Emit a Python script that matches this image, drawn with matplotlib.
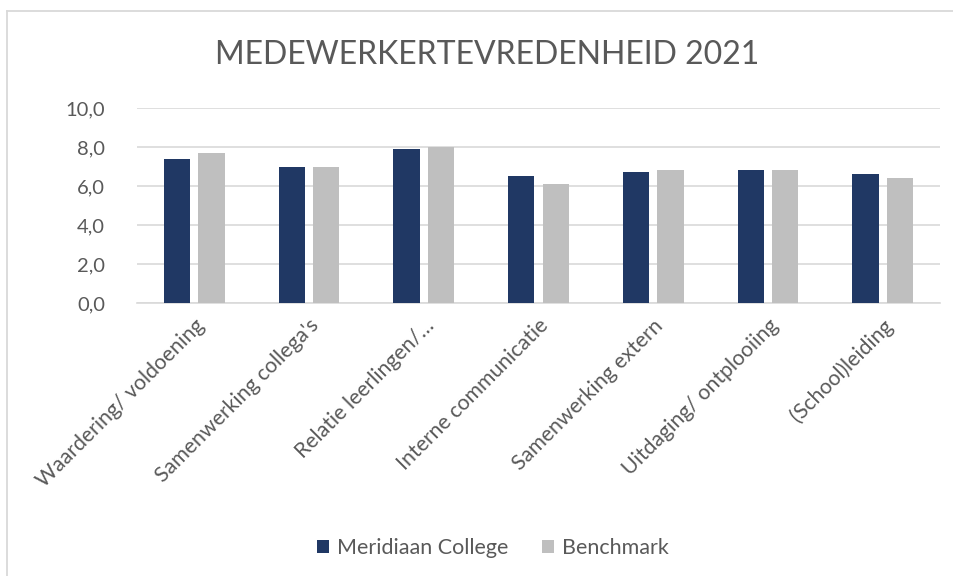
import matplotlib
matplotlib.use("Agg")
import matplotlib.pyplot as plt
import numpy as np
from matplotlib.lines import Line2D
from matplotlib.ticker import FuncFormatter

categories = ["Waardering/ voldoening", "Samenwerking collega's", "Relatie leerlingen/…",
              "Interne communicatie", "Samenwerking extern", "Uitdaging/ ontplooiing",
              "(School)leiding"]
meridiaan = [7.4, 7.0, 7.9, 6.5, 6.7, 6.8, 6.6]
benchmark = [7.7, 7.0, 8.0, 6.1, 6.8, 6.8, 6.4]
series_names = ["Meridiaan College", "Benchmark"]
title = "MEDEWERKERTEVREDENHEID 2021"

plt.rcParams['font.family'] = ['Lato', 'DejaVu Sans']
txt = '#595959'

W, H = 954, 576
fig = plt.figure(figsize=(W/100, H/100), dpi=100)
bc = '#d9d9d9'
fig.lines.append(Line2D([7/W, 7/W], [0, 1 - 11/H], transform=fig.transFigure, color=bc, lw=1.3))
fig.lines.append(Line2D([7/W, 1], [1 - 11/H, 1 - 11/H], transform=fig.transFigure, color=bc, lw=1.3))

ax = fig.add_axes([137/W, 1 - 303/H, (940-137)/W, (303-108)/H])
x = np.arange(len(categories))
bw = 0.23
gap = 0.07
ax.bar(x - (bw+gap)/2, meridiaan, bw, color='#203864', label=series_names[0], zorder=3)
ax.bar(x + (bw+gap)/2, benchmark, bw, color='#bfbfbf', label=series_names[1], zorder=3)
ax.set_ylim(0, 10)
ax.set_xlim(-0.5, len(categories) - 0.5)
ax.set_yticks(np.arange(0, 10.01, 2))
ax.yaxis.set_major_formatter(FuncFormatter(lambda v, p: f"{v:.1f}".replace('.', ',')))
ax.grid(axis='y', color=bc, lw=1.2, zorder=0)
for s in ['top', 'right', 'left']:
    ax.spines[s].set_visible(False)
ax.spines['bottom'].set_color(bc)
ax.spines['bottom'].set_linewidth(1.2)
ax.tick_params(axis='both', length=0, colors=txt, labelsize=14.5)
ax.tick_params(axis='y', pad=23)
ax.set_xticks(x)
ax.set_xticklabels(categories, rotation=45, ha='right', rotation_mode='anchor', fontsize=15.3)
ax.tick_params(axis='x', pad=9)

fig.text(487/W, 1 - 55/H, title, ha='center', va='center', color=txt, fontsize=23)

fig.legend(loc='center', bbox_to_anchor=(493/W, 1 - 548/H), ncol=2, frameon=False,
           fontsize=15.5, labelcolor=txt, handlelength=0.55, handleheight=0.55,
           columnspacing=1.6, handletextpad=0.35)

fig.savefig("out.png", dpi=100)
